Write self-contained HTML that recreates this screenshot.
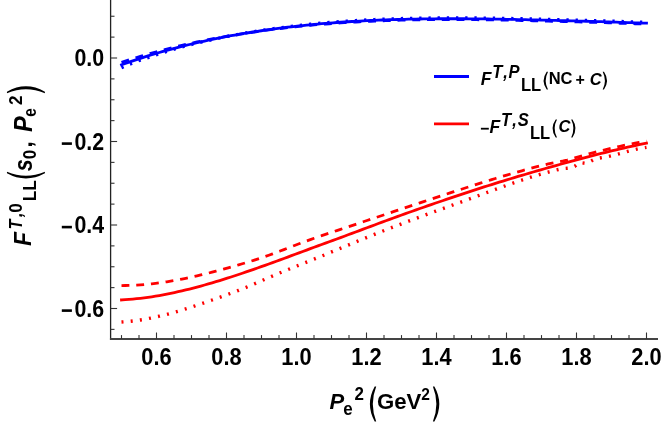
<!DOCTYPE html>
<html><head><meta charset="utf-8"><title>plot</title>
<style>
html,body{margin:0;padding:0;background:#fff;}
svg{display:block;will-change:transform;font-family:"Liberation Sans",sans-serif;font-weight:bold;}
</style></head><body>
<svg width="664" height="432" viewBox="0 0 664 432">
<rect width="664" height="432" fill="#fff"/>
<g fill="none" stroke="#0000ff" stroke-width="2.8" stroke-linejoin="round">
<path d="M121.50,64.83 L125.28,63.47 L129.05,62.14 L132.83,60.84 L136.61,59.57 L140.38,58.33 L144.16,57.11 L147.94,55.92 L151.72,54.76 L155.49,53.62 L159.27,52.51 L163.05,51.42 L166.82,50.36 L170.60,49.32 L174.38,48.31 L178.15,47.32 L181.93,46.36 L185.71,45.41 L189.49,44.49 L193.26,43.59 L197.04,42.72 L200.82,41.86 L204.59,41.03 L208.37,40.21 L212.15,39.42 L215.92,38.65 L219.70,37.89 L223.48,37.16 L227.26,36.44 L231.03,35.74 L234.81,35.06 L238.59,34.39 L242.36,33.74 L246.14,33.11 L249.92,32.50 L253.69,31.90 L257.47,31.32 L261.25,30.75 L265.03,30.20 L268.80,29.67 L272.58,29.15 L276.36,28.65 L280.13,28.16 L283.91,27.69 L287.69,27.23 L291.46,26.78 L295.24,26.35 L299.02,25.94 L302.79,25.54 L306.57,25.15 L310.35,24.78 L314.13,24.42 L317.90,24.07 L321.68,23.73 L325.46,23.41 L329.23,23.10 L333.01,22.81 L336.79,22.52 L340.56,22.25 L344.34,21.99 L348.12,21.74 L351.90,21.50 L355.67,21.28 L359.45,21.06 L363.23,20.86 L367.00,20.66 L370.78,20.48 L374.56,20.31 L378.33,20.15 L382.11,19.99 L385.89,19.85 L389.67,19.72 L393.44,19.59 L397.22,19.48 L401.00,19.37 L404.77,19.28 L408.55,19.19 L412.33,19.11 L416.10,19.04 L419.88,18.98 L423.66,18.92 L427.44,18.87 L431.21,18.83 L434.99,18.80 L438.77,18.77 L442.54,18.75 L446.32,18.74 L450.10,18.74 L453.87,18.74 L457.65,18.74 L461.43,18.76 L465.21,18.77 L468.98,18.80 L472.76,18.83 L476.54,18.86 L480.31,18.90 L484.09,18.95 L487.87,19.00 L491.64,19.05 L495.42,19.11 L499.20,19.17 L502.97,19.23 L506.75,19.30 L510.53,19.38 L514.31,19.45 L518.08,19.53 L521.86,19.61 L525.64,19.70 L529.41,19.78 L533.19,19.87 L536.97,19.96 L540.74,20.06 L544.52,20.15 L548.30,20.25 L552.08,20.35 L555.85,20.45 L559.63,20.55 L563.41,20.65 L567.18,20.75 L570.96,20.85 L574.74,20.96 L578.51,21.06 L582.29,21.16 L586.07,21.26 L589.85,21.36 L593.62,21.47 L597.40,21.58 L601.18,21.70 L604.95,21.82 L608.73,21.94 L612.51,22.07 L616.28,22.20 L620.06,22.33 L623.84,22.46 L627.62,22.59 L631.39,22.72 L635.17,22.84 L638.95,22.96 L642.72,23.08 L646.50,23.18" stroke-linecap="square"/>
<path d="M121.50,62.43 L125.28,61.13 L129.05,59.90 L132.83,58.74 L136.61,57.60 L140.38,56.46 L144.16,55.33 L147.94,54.22 L151.72,53.13 L155.49,52.07 L159.27,51.02 L163.05,50.00 L166.82,49.00 L170.60,48.03 L174.38,47.09 L178.15,46.18 L181.93,45.29 L185.71,44.43 L189.49,43.58 L193.26,42.76 L197.04,41.96 L200.82,41.18 L204.59,40.43 L208.37,39.69 L212.15,38.97 L215.92,38.26 L219.70,37.58 L223.48,36.91 L227.26,36.25 L231.03,35.61 L234.81,34.99 L238.59,34.37 L242.36,33.77 L246.14,33.18 L249.92,32.61 L253.69,32.05 L257.47,31.51 L261.25,30.98 L265.03,30.46 L268.80,29.96 L272.58,29.47 L276.36,29.00 L280.13,28.54 L283.91,28.09 L287.69,27.66 L291.46,27.24 L295.24,26.83 L299.02,26.43 L302.79,26.05 L306.57,25.68 L310.35,25.32 L314.13,24.98 L317.90,24.65 L321.68,24.33 L325.46,24.02 L329.23,23.73 L333.01,23.44 L336.79,23.17 L340.56,22.91 L344.34,22.67 L348.12,22.43 L351.90,22.21 L355.67,21.99 L359.45,21.79 L363.23,21.59 L367.00,21.41 L370.78,21.24 L374.56,21.07 L378.33,20.92 L382.11,20.77 L385.89,20.63 L389.67,20.51 L393.44,20.39 L397.22,20.28 L401.00,20.18 L404.77,20.08 L408.55,20.00 L412.33,19.92 L416.10,19.85 L419.88,19.79 L423.66,19.74 L427.44,19.69 L431.21,19.66 L434.99,19.63 L438.77,19.60 L442.54,19.59 L446.32,19.58 L450.10,19.57 L453.87,19.58 L457.65,19.58 L461.43,19.60 L465.21,19.62 L468.98,19.65 L472.76,19.68 L476.54,19.71 L480.31,19.76 L484.09,19.80 L487.87,19.85 L491.64,19.91 L495.42,19.97 L499.20,20.03 L502.97,20.10 L506.75,20.17 L510.53,20.24 L514.31,20.32 L518.08,20.40 L521.86,20.49 L525.64,20.57 L529.41,20.66 L533.19,20.75 L536.97,20.84 L540.74,20.94 L544.52,21.04 L548.30,21.13 L552.08,21.23 L555.85,21.33 L559.63,21.44 L563.41,21.54 L567.18,21.64 L570.96,21.74 L574.74,21.85 L578.51,21.95 L582.29,22.05 L586.07,22.16 L589.85,22.26 L593.62,22.36 L597.40,22.47 L601.18,22.59 L604.95,22.71 L608.73,22.84 L612.51,22.97 L616.28,23.10 L620.06,23.23 L623.84,23.36 L627.62,23.49 L631.39,23.62 L635.17,23.74 L638.95,23.86 L642.72,23.98 L646.50,24.08" stroke-dasharray="7.9 6.85"/>
<path d="M121.50,67.83 L125.28,66.10 L129.05,64.47 L132.83,62.94 L136.61,61.49 L140.38,60.12 L144.16,58.83 L147.94,57.57 L151.72,56.29 L155.49,55.02 L159.27,53.79 L163.05,52.58 L166.82,51.39 L170.60,50.24 L174.38,49.11 L178.15,48.03 L181.93,46.98 L185.71,45.96 L189.49,44.98 L193.26,44.02 L197.04,43.09 L200.82,42.18 L204.59,41.30 L208.37,40.44 L212.15,39.60 L215.92,38.79 L219.70,37.99 L223.48,37.22 L227.26,36.46 L231.03,35.73 L234.81,35.01 L238.59,34.31 L242.36,33.63 L246.14,32.97 L249.92,32.32 L253.69,31.69 L257.47,31.08 L261.25,30.49 L265.03,29.91 L268.80,29.35 L272.58,28.80 L276.36,28.28 L280.13,27.76 L283.91,27.27 L287.69,26.79 L291.46,26.32 L295.24,25.88 L299.02,25.44 L302.79,25.03 L306.57,24.62 L310.35,24.23 L314.13,23.86 L317.90,23.49 L321.68,23.14 L325.46,22.81 L329.23,22.48 L333.01,22.17 L336.79,21.87 L340.56,21.59 L344.34,21.31 L348.12,21.05 L351.90,20.80 L355.67,20.56 L359.45,20.34 L363.23,20.12 L367.00,19.92 L370.78,19.73 L374.56,19.55 L378.33,19.38 L382.11,19.22 L385.89,19.07 L389.67,18.93 L393.44,18.80 L397.22,18.68 L401.00,18.57 L404.77,18.47 L408.55,18.38 L412.33,18.30 L416.10,18.23 L419.88,18.16 L423.66,18.10 L427.44,18.05 L431.21,18.01 L434.99,17.97 L438.77,17.94 L442.54,17.92 L446.32,17.91 L450.10,17.90 L453.87,17.90 L457.65,17.90 L461.43,17.91 L465.21,17.93 L468.98,17.95 L472.76,17.98 L476.54,18.01 L480.31,18.05 L484.09,18.09 L487.87,18.14 L491.64,18.19 L495.42,18.24 L499.20,18.30 L502.97,18.37 L506.75,18.44 L510.53,18.51 L514.31,18.58 L518.08,18.66 L521.86,18.74 L525.64,18.82 L529.41,18.91 L533.19,18.99 L536.97,19.08 L540.74,19.18 L544.52,19.27 L548.30,19.37 L552.08,19.46 L555.85,19.56 L559.63,19.66 L563.41,19.76 L567.18,19.86 L570.96,19.96 L574.74,20.06 L578.51,20.17 L582.29,20.27 L586.07,20.37 L589.85,20.47 L593.62,20.57 L597.40,20.68 L601.18,20.80 L604.95,20.92 L608.73,21.04 L612.51,21.17 L616.28,21.30 L620.06,21.43 L623.84,21.56 L627.62,21.69 L631.39,21.82 L635.17,21.94 L638.95,22.06 L642.72,22.18 L646.50,22.28" stroke-dasharray="2.3 6.9" stroke-width="3.3"/>
</g>
<g fill="none" stroke="#ff0000" stroke-width="2.8" stroke-linejoin="round">
<path d="M121.50,299.90 L125.28,299.68 L129.05,299.41 L132.83,299.09 L136.61,298.71 L140.38,298.30 L144.16,297.83 L147.94,297.32 L151.72,296.76 L155.49,296.16 L159.27,295.52 L163.05,294.84 L166.82,294.12 L170.60,293.37 L174.38,292.57 L178.15,291.74 L181.93,290.87 L185.71,289.97 L189.49,289.04 L193.26,288.07 L197.04,287.08 L200.82,286.06 L204.59,285.01 L208.37,283.93 L212.15,282.82 L215.92,281.70 L219.70,280.55 L223.48,279.37 L227.26,278.18 L231.03,276.97 L234.81,275.73 L238.59,274.48 L242.36,273.22 L246.14,271.94 L249.92,270.64 L253.69,269.33 L257.47,268.01 L261.25,266.68 L265.03,265.33 L268.80,263.97 L272.58,262.61 L276.36,261.24 L280.13,259.85 L283.91,258.47 L287.69,257.07 L291.46,255.68 L295.24,254.27 L299.02,252.87 L302.79,251.46 L306.57,250.07 L310.35,248.67 L314.13,247.29 L317.90,245.90 L321.68,244.52 L325.46,243.14 L329.23,241.76 L333.01,240.38 L336.79,238.99 L340.56,237.60 L344.34,236.21 L348.12,234.80 L351.90,233.40 L355.67,231.99 L359.45,230.58 L363.23,229.17 L367.00,227.76 L370.78,226.35 L374.56,224.95 L378.33,223.55 L382.11,222.16 L385.89,220.77 L389.67,219.38 L393.44,218.00 L397.22,216.63 L401.00,215.26 L404.77,213.90 L408.55,212.55 L412.33,211.21 L416.10,209.87 L419.88,208.54 L423.66,207.22 L427.44,205.90 L431.21,204.59 L434.99,203.29 L438.77,201.99 L442.54,200.70 L446.32,199.42 L450.10,198.14 L453.87,196.87 L457.65,195.61 L461.43,194.35 L465.21,193.10 L468.98,191.85 L472.76,190.61 L476.54,189.38 L480.31,188.16 L484.09,186.95 L487.87,185.75 L491.64,184.56 L495.42,183.38 L499.20,182.21 L502.97,181.04 L506.75,179.88 L510.53,178.73 L514.31,177.59 L518.08,176.46 L521.86,175.34 L525.64,174.22 L529.41,173.11 L533.19,172.01 L536.97,170.91 L540.74,169.83 L544.52,168.74 L548.30,167.67 L552.08,166.60 L555.85,165.54 L559.63,164.48 L563.41,163.43 L567.18,162.39 L570.96,161.36 L574.74,160.34 L578.51,159.32 L582.29,158.32 L586.07,157.32 L589.85,156.34 L593.62,155.37 L597.40,154.42 L601.18,153.48 L604.95,152.55 L608.73,151.63 L612.51,150.72 L616.28,149.83 L620.06,148.95 L623.84,148.08 L627.62,147.22 L631.39,146.37 L635.17,145.54 L638.95,144.72 L642.72,143.91 L646.50,143.12" stroke-linecap="square"/>
<path d="M121.50,285.54 L125.28,285.51 L129.05,285.42 L132.83,285.28 L136.61,285.08 L140.38,284.84 L144.16,284.54 L147.94,284.19 L151.72,283.79 L155.49,283.35 L159.27,282.87 L163.05,282.34 L166.82,281.77 L170.60,281.15 L174.38,280.50 L178.15,279.81 L181.93,279.09 L185.71,278.33 L189.49,277.54 L193.26,276.71 L197.04,275.86 L200.82,274.98 L204.59,274.07 L208.37,273.13 L212.15,272.17 L215.92,271.18 L219.70,270.18 L223.48,269.15 L227.26,268.11 L231.03,267.05 L234.81,265.97 L238.59,264.87 L242.36,263.76 L246.14,262.63 L249.92,261.48 L253.69,260.30 L257.47,259.08 L261.25,257.84 L265.03,256.56 L268.80,255.23 L272.58,253.87 L276.36,252.47 L280.13,251.03 L283.91,249.58 L287.69,248.13 L291.46,246.67 L295.24,245.22 L299.02,243.79 L302.79,242.37 L306.57,240.99 L310.35,239.63 L314.13,238.30 L317.90,236.99 L321.68,235.69 L325.46,234.41 L329.23,233.13 L333.01,231.87 L336.79,230.61 L340.56,229.35 L344.34,228.10 L348.12,226.84 L351.90,225.57 L355.67,224.30 L359.45,223.04 L363.23,221.77 L367.00,220.51 L370.78,219.25 L374.56,217.99 L378.33,216.72 L382.11,215.46 L385.89,214.20 L389.67,212.94 L393.44,211.67 L397.22,210.41 L401.00,209.15 L404.77,207.89 L408.55,206.63 L412.33,205.37 L416.10,204.12 L419.88,202.86 L423.66,201.61 L427.44,200.36 L431.21,199.11 L434.99,197.87 L438.77,196.63 L442.54,195.38 L446.32,194.15 L450.10,192.91 L453.87,191.68 L457.65,190.45 L461.43,189.22 L465.21,187.99 L468.98,186.77 L472.76,185.56 L476.54,184.36 L480.31,183.16 L484.09,181.98 L487.87,180.80 L491.64,179.64 L495.42,178.49 L499.20,177.35 L502.97,176.22 L506.75,175.11 L510.53,174.00 L514.31,172.91 L518.08,171.84 L521.86,170.78 L525.64,169.74 L529.41,168.71 L533.19,167.70 L536.97,166.71 L540.74,165.76 L544.52,164.85 L548.30,163.99 L552.08,163.19 L555.85,162.45 L559.63,161.74 L563.41,160.98 L567.18,160.07 L570.96,159.06 L574.74,157.97 L578.51,156.85 L582.29,155.74 L586.07,154.66 L589.85,153.61 L593.62,152.61 L597.40,151.64 L601.18,150.70 L604.95,149.80 L608.73,148.91 L612.51,148.02 L616.28,147.15 L620.06,146.30 L623.84,145.47 L627.62,144.68 L631.39,143.91 L635.17,143.18 L638.95,142.49 L642.72,141.81 L646.50,141.14" stroke-dasharray="7.9 6.85"/>
<path d="M121.50,322.07 L125.28,321.80 L129.05,321.45 L132.83,321.02 L136.61,320.52 L140.38,319.96 L144.16,319.33 L147.94,318.64 L151.72,317.89 L155.49,317.08 L159.27,316.21 L163.05,315.30 L166.82,314.34 L170.60,313.33 L174.38,312.28 L178.15,311.19 L181.93,310.06 L185.71,308.89 L189.49,307.70 L193.26,306.47 L197.04,305.22 L200.82,303.95 L204.59,302.65 L208.37,301.34 L212.15,300.02 L215.92,298.68 L219.70,297.33 L223.48,295.97 L227.26,294.60 L231.03,293.22 L234.81,291.81 L238.59,290.37 L242.36,288.89 L246.14,287.37 L249.92,285.80 L253.69,284.19 L257.47,282.55 L261.25,280.89 L265.03,279.23 L268.80,277.58 L272.58,275.94 L276.36,274.34 L280.13,272.77 L283.91,271.21 L287.69,269.68 L291.46,268.16 L295.24,266.65 L299.02,265.14 L302.79,263.64 L306.57,262.13 L310.35,260.62 L314.13,259.10 L317.90,257.58 L321.68,256.04 L325.46,254.49 L329.23,252.93 L333.01,251.36 L336.79,249.79 L340.56,248.21 L344.34,246.64 L348.12,245.07 L351.90,243.51 L355.67,241.95 L359.45,240.40 L363.23,238.86 L367.00,237.32 L370.78,235.81 L374.56,234.30 L378.33,232.80 L382.11,231.32 L385.89,229.84 L389.67,228.38 L393.44,226.92 L397.22,225.48 L401.00,224.04 L404.77,222.62 L408.55,221.20 L412.33,219.79 L416.10,218.39 L419.88,216.99 L423.66,215.60 L427.44,214.22 L431.21,212.84 L434.99,211.46 L438.77,210.09 L442.54,208.72 L446.32,207.35 L450.10,205.98 L453.87,204.61 L457.65,203.24 L461.43,201.87 L465.21,200.50 L468.98,199.13 L472.76,197.75 L476.54,196.37 L480.31,194.98 L484.09,193.59 L487.87,192.20 L491.64,190.81 L495.42,189.43 L499.20,188.05 L502.97,186.68 L506.75,185.32 L510.53,183.98 L514.31,182.66 L518.08,181.36 L521.86,180.08 L525.64,178.84 L529.41,177.62 L533.19,176.43 L536.97,175.29 L540.74,174.18 L544.52,173.11 L548.30,172.09 L552.08,171.11 L555.85,170.15 L559.63,169.25 L563.41,168.58 L567.18,168.31 L570.96,168.03 L574.74,166.34 L578.51,163.02 L582.29,162.90 L586.07,163.42 L589.85,161.78 L593.62,159.66 L597.40,158.42 L601.18,157.77 L604.95,157.12 L608.73,156.33 L612.51,155.45 L616.28,154.49 L620.06,153.46 L623.84,152.42 L627.62,151.38 L631.39,150.38 L635.17,149.45 L638.95,148.62 L642.72,147.92 L646.50,147.38" stroke-dasharray="2.0 7.24" stroke-width="3.4"/>
</g>
<g fill="none">
<line x1="110.6" y1="0" x2="110.6" y2="339.9" stroke="#222" stroke-width="1.3"/>
<line x1="109.94999999999999" y1="339.0" x2="658" y2="339.0" stroke="#444" stroke-width="1.9"/>
</g>
<g stroke="#333" stroke-width="1.1" fill="none">
<line x1="121.50" y1="339.0" x2="121.50" y2="335.10"/><line x1="139.00" y1="339.0" x2="139.00" y2="335.10"/><line x1="156.50" y1="339.0" x2="156.50" y2="332.50"/><line x1="174.00" y1="339.0" x2="174.00" y2="335.10"/><line x1="191.50" y1="339.0" x2="191.50" y2="335.10"/><line x1="209.00" y1="339.0" x2="209.00" y2="335.10"/><line x1="226.50" y1="339.0" x2="226.50" y2="332.50"/><line x1="244.00" y1="339.0" x2="244.00" y2="335.10"/><line x1="261.50" y1="339.0" x2="261.50" y2="335.10"/><line x1="279.00" y1="339.0" x2="279.00" y2="335.10"/><line x1="296.50" y1="339.0" x2="296.50" y2="332.50"/><line x1="314.00" y1="339.0" x2="314.00" y2="335.10"/><line x1="331.50" y1="339.0" x2="331.50" y2="335.10"/><line x1="349.00" y1="339.0" x2="349.00" y2="335.10"/><line x1="366.50" y1="339.0" x2="366.50" y2="332.50"/><line x1="384.00" y1="339.0" x2="384.00" y2="335.10"/><line x1="401.50" y1="339.0" x2="401.50" y2="335.10"/><line x1="419.00" y1="339.0" x2="419.00" y2="335.10"/><line x1="436.50" y1="339.0" x2="436.50" y2="332.50"/><line x1="454.00" y1="339.0" x2="454.00" y2="335.10"/><line x1="471.50" y1="339.0" x2="471.50" y2="335.10"/><line x1="489.00" y1="339.0" x2="489.00" y2="335.10"/><line x1="506.50" y1="339.0" x2="506.50" y2="332.50"/><line x1="524.00" y1="339.0" x2="524.00" y2="335.10"/><line x1="541.50" y1="339.0" x2="541.50" y2="335.10"/><line x1="559.00" y1="339.0" x2="559.00" y2="335.10"/><line x1="576.50" y1="339.0" x2="576.50" y2="332.50"/><line x1="594.00" y1="339.0" x2="594.00" y2="335.10"/><line x1="611.50" y1="339.0" x2="611.50" y2="335.10"/><line x1="629.00" y1="339.0" x2="629.00" y2="335.10"/><line x1="646.50" y1="339.0" x2="646.50" y2="332.50"/><line x1="110.6" y1="329.38" x2="114.50" y2="329.38"/><line x1="110.6" y1="308.50" x2="117.10" y2="308.50"/><line x1="110.6" y1="287.62" x2="114.50" y2="287.62"/><line x1="110.6" y1="266.75" x2="114.50" y2="266.75"/><line x1="110.6" y1="245.88" x2="114.50" y2="245.88"/><line x1="110.6" y1="225.00" x2="117.10" y2="225.00"/><line x1="110.6" y1="204.12" x2="114.50" y2="204.12"/><line x1="110.6" y1="183.25" x2="114.50" y2="183.25"/><line x1="110.6" y1="162.38" x2="114.50" y2="162.38"/><line x1="110.6" y1="141.50" x2="117.10" y2="141.50"/><line x1="110.6" y1="120.62" x2="114.50" y2="120.62"/><line x1="110.6" y1="99.75" x2="114.50" y2="99.75"/><line x1="110.6" y1="78.88" x2="114.50" y2="78.88"/><line x1="110.6" y1="58.00" x2="117.10" y2="58.00"/><line x1="110.6" y1="37.12" x2="114.50" y2="37.12"/><line x1="110.6" y1="16.25" x2="114.50" y2="16.25"/>
</g>
<g font-size="23.4" fill="#000">
<text transform="translate(156.5,365.3) scale(0.933,1)" text-anchor="middle">0.6</text><text transform="translate(226.5,365.3) scale(0.933,1)" text-anchor="middle">0.8</text><text transform="translate(296.5,365.3) scale(0.933,1)" text-anchor="middle">1.0</text><text transform="translate(366.5,365.3) scale(0.933,1)" text-anchor="middle">1.2</text><text transform="translate(436.5,365.3) scale(0.933,1)" text-anchor="middle">1.4</text><text transform="translate(506.5,365.3) scale(0.933,1)" text-anchor="middle">1.6</text><text transform="translate(576.5,365.3) scale(0.933,1)" text-anchor="middle">1.8</text><text transform="translate(646.5,365.3) scale(0.933,1)" text-anchor="middle">2.0</text>
<text transform="translate(104.1,66.2) scale(0.913,1)" text-anchor="end">0.0</text><text transform="translate(104.1,149.7) scale(0.913,1)" text-anchor="end">0.2</text><rect x="61.8" y="142.3" width="10.1" height="2.6"/><text transform="translate(104.1,233.2) scale(0.913,1)" text-anchor="end">0.4</text><rect x="61.8" y="225.8" width="10.1" height="2.6"/><text transform="translate(104.1,316.7) scale(0.913,1)" text-anchor="end">0.6</text><rect x="61.8" y="309.3" width="10.1" height="2.6"/>
</g>
<!-- LEGEND -->
<g stroke-width="2.8" fill="none">
<line x1="434" y1="76.5" x2="469" y2="76.5" stroke="#0000ff"/>
<line x1="434" y1="123.8" x2="469" y2="123.8" stroke="#ff0000"/>
</g>
<g id="leg1" fill="#000"><text x="480.79" y="84.70" font-size="17.5" font-style="italic">F</text><text transform="translate(492.13,77.80) scale(0.92,1)" font-size="18" font-style="italic">T</text><text transform="translate(503.26,77.80) scale(0.92,1)" font-size="18" font-style="italic">,</text><text transform="translate(508.51,77.80) scale(0.92,1)" font-size="18" font-style="italic">P</text><text transform="translate(520.89,90.70) scale(0.92,1)" font-size="18">LL</text><path d="M546.70,71.70 Q540.50,80.65 546.70,89.60 L548.00,89.60 Q543.40,80.65 548.00,71.70 Z"/><text x="548.70" y="84.40" font-size="16.5">NC</text><text x="575.53" y="85.40" font-size="16">+</text><text x="589.69" y="84.50" font-size="16.5" font-style="italic">C</text><path d="M604.00,71.70 Q610.00,80.65 604.00,89.60 L602.70,89.60 Q607.10,80.65 602.70,71.70 Z"/></g>
<g id="leg2" fill="#000"><rect x="480.9" y="127.8" width="7.9" height="1.8"/><text x="489.59" y="132.60" font-size="17.5" font-style="italic">F</text><text transform="translate(501.03,125.70) scale(0.92,1)" font-size="18" font-style="italic">T</text><text transform="translate(512.26,125.70) scale(0.92,1)" font-size="18" font-style="italic">,</text><text transform="translate(517.80,125.70) scale(0.92,1)" font-size="18" font-style="italic">S</text><text transform="translate(529.89,138.60) scale(0.92,1)" font-size="18">LL</text><path d="M555.70,119.60 Q549.30,128.55 555.70,137.50 L557.00,137.50 Q552.20,128.55 557.00,119.60 Z"/><text x="558.39" y="132.40" font-size="16.5" font-style="italic">C</text><path d="M572.50,119.60 Q578.50,128.55 572.50,137.50 L571.20,137.50 Q575.60,128.55 571.20,119.60 Z"/></g>
<!-- X LABEL -->
<g id="xlab" fill="#000"><text x="329.61" y="409.40" font-size="22" font-style="italic">P</text><text transform="translate(343.24,414.60) scale(0.97,1)" font-size="17.5">e</text><text transform="translate(354.41,399.80) scale(0.97,1)" font-size="17.5">2</text><path d="M374.70,386.60 Q365.10,404.10 374.70,421.60 L376.20,421.60 Q369.40,404.10 376.20,386.60 Z"/><text x="376.89" y="409.40" font-size="22.2">GeV</text><text transform="translate(421.26,399.50) scale(0.97,1)" font-size="16">2</text><path d="M434.40,386.60 Q444.20,404.10 434.40,421.60 L432.90,421.60 Q439.90,404.10 432.90,386.60 Z"/></g>
<!-- Y LABEL : local (u,v): screen x = v, screen y = 432-u  -->
<g id="ylab" fill="#000" transform="translate(0,432) rotate(-90)"><text transform="translate(186.00,31.30) scale(0.92,1)" font-size="24.8" font-style="italic">F</text><text transform="translate(202.60,21.60) scale(0.9,1)" font-size="18" font-style="italic">T</text><text transform="translate(214.91,21.60) scale(0.9,1)" font-size="18" font-style="italic">,</text><text transform="translate(219.32,21.80) scale(0.95,1)" font-size="18">0</text><text transform="translate(230.64,36.20) scale(0.96,1)" font-size="18">LL</text><path d="M258.65,6.95 Q248.25,25.93 258.65,44.90 L260.35,44.90 Q252.35,25.93 260.35,6.95 Z"/><text transform="translate(260.66,32.00) scale(0.85,1)" font-size="25.3" font-style="italic">s</text><text transform="translate(272.73,35.90) scale(0.97,1)" font-size="17.5">0</text><text transform="translate(284.60,31.60) scale(0.9,1)" font-size="24.5">,</text><text transform="translate(299.89,31.70) scale(0.94,1)" font-size="25" font-style="italic">P</text><text transform="translate(315.20,36.30) scale(0.87,1)" font-size="17.7">e</text><text transform="translate(327.01,22.00) scale(0.95,1)" font-size="18">2</text><path d="M340.35,6.95 Q350.95,25.93 340.35,44.90 L338.65,44.90 Q346.85,25.93 338.65,6.95 Z"/></g>
</svg>
</body></html>
